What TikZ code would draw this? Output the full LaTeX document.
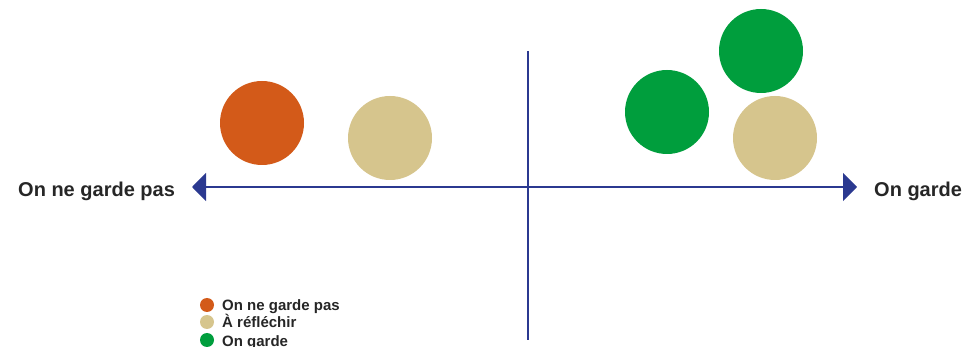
\documentclass[tikz,border=0pt]{standalone}
\usepackage{fontspec}
\setmainfont{Liberation Sans}
\usetikzlibrary{positioning, arrows.meta}

\definecolor{axisblue}{HTML}{2B3990}
\definecolor{nogarde}{HTML}{D35A19}
\definecolor{reflechir}{HTML}{D6C58D}
\definecolor{garde}{HTML}{009E3D}

\begin{document}
\begin{tikzpicture}[x=1pt, y=-1pt,
    bubble/.style={circle, minimum size=84pt, inner sep=0pt},
    dot/.style={circle, minimum size=14pt, inner sep=0pt},
    axislabel/.style={anchor=base west, inner sep=0pt, font=\fontsize{20}{24}\selectfont\bfseries, text=black!85},
    legtext/.style={anchor=base west, inner sep=0pt, font=\fontsize{15}{17}\selectfont\bfseries, text=black!85},
    axis/.style={line width=2.2pt, draw=axisblue},
    arrow/.style={axis, -{Triangle[length=14pt, width=28pt]}, shorten >=-1pt}]

  \useasboundingbox (0,0) rectangle (964,347);

  % axes
  \coordinate (origin) at (528,187);
  \coordinate (top) at (528,51);
  \coordinate (bottom) at (528,340);
  \coordinate (west) at (193,187);
  \coordinate (east) at (856,187);

  \node[axislabel] (nokeep) at (18,197) {On ne garde pas};
  \node[axislabel] (keep) at (874,197) {On garde};

  \draw[axis] (top) -- (bottom);
  \draw[arrow] (origin) -- (west);
  \draw[arrow] (origin) -- (east);

  % bubbles
  \node[bubble, fill=nogarde] (b1) at (262,123) {};
  \node[bubble, fill=reflechir] (b2) at (390,138) {};
  \node[bubble, fill=garde] (b3) at (667,112) {};
  \node[bubble, fill=garde] (b4) at (761,51) {};
  \node[bubble, fill=reflechir] (b5) at (775,138) {};

  % legend
  \node[dot, fill=nogarde] (k1) at (207,305) {};
  \node[dot, fill=reflechir] (k2) at (207,322) {};
  \node[dot, fill=garde] (k3) at (207,340) {};
  \node[legtext] (t1) at (222,311) {On ne garde pas};
  \node[legtext] (t2) at (222,328) {À réfléchir};
  \node[legtext] (t3) at (222,346) {On garde};
\end{tikzpicture}
\end{document}
